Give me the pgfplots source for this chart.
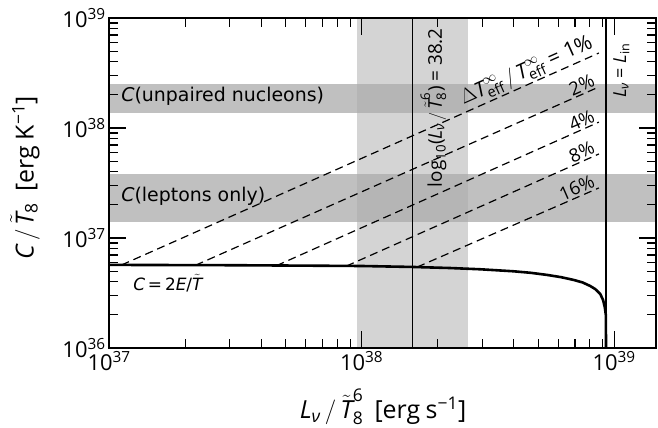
\documentclass[border=0pt]{standalone}
\usepackage{amsmath}
\usepackage{fontspec}
\setmainfont{Open Sans}
\newfontfamily\dejavu{DejaVu Sans}
\usepackage{pgfplots}
\pgfplotsset{compat=1.18}
\definecolor{vband}{RGB}{212,212,212}
\definecolor{hband}{RGB}{192,192,192}
\definecolor{oband}{RGB}{181,181,181}
\newcommand{\mi}[1]{\text{\itshape #1}}
\newcommand{\tT}{\tilde{\mi{T}}}
\begin{document}
\begin{tikzpicture}
\begin{axis}[
  scale only axis, width=547bp, height=330bp,
  xmode=log, ymode=log,
  xmin=1e37, xmax=1.466e39, ymin=1e36, ymax=1e39,
  axis on top,
  tick align=inside,
  xtick pos=both, ytick pos=both,
  major tick length=17bp, minor tick length=9bp,
  every tick/.style={black, line width=1.1bp},
  axis line style={line width=1.3bp},
  /pgf/number format/assume math mode=true,
  log number format basis/.code 2 args={#1\textsuperscript{\pgfmathprintnumber[fixed,precision=0]{#2}}},
  tick label style={font=\fontsize{22}{26}\selectfont},
  xtick={1e37,1e38,1e39},
  ytick={1e36,1e37,1e38,1e39},
  minor xtick={2e37,3e37,4e37,5e37,6e37,7e37,8e37,9e37,2e38,3e38,4e38,5e38,6e38,7e38,8e38,9e38},
  minor ytick={2e36,3e36,4e36,5e36,6e36,7e36,8e36,9e36,2e37,3e37,4e37,5e37,6e37,7e37,8e37,9e37,2e38,3e38,4e38,5e38,6e38,7e38,8e38,9e38},
]
% vertical band
\addplot[draw=none, fill=vband] coordinates {(9.6e37,1e35) (2.64e38,1e35) (2.64e38,1e40) (9.6e37,1e40)} -- cycle;
% horizontal bands
\addplot[draw=none, fill=hband] coordinates {(1e36,1.368e38) (1e40,1.368e38) (1e40,2.512e38) (1e36,2.512e38)} -- cycle;
\addplot[draw=none, fill=hband] coordinates {(1e36,1.397e37) (1e40,1.397e37) (1e40,3.82e37) (1e36,3.82e37)} -- cycle;
% overlaps
\addplot[draw=none, fill=oband] coordinates {(9.6e37,1.368e38) (2.64e38,1.368e38) (2.64e38,2.512e38) (9.6e37,2.512e38)} -- cycle;
\addplot[draw=none, fill=oband] coordinates {(9.6e37,1.397e37) (2.64e38,1.397e37) (2.64e38,3.82e37) (9.6e37,3.82e37)} -- cycle;
% vertical lines
\addplot[black, line width=1.1bp] coordinates {(1.585e38,1e35) (1.585e38,1e40)};
\addplot[black, line width=2.4bp] coordinates {(9.29e38,1e35) (9.29e38,1e40)};
% dashed lines
\addplot[black, line width=1.2bp, dash pattern=on 8bp off 5bp] coordinates {(1.12e37,5.68e36) (8.7e38,4.8e38)}
  node[pos=1, sloped, anchor=south east, inner sep=1.5bp, font=\fontsize{21}{25}\selectfont] {$\Delta\mi{T}^{\infty}_{\text{eff}}\,/\,\mi{T}^{\infty}_{\text{eff}}$ = 1\%};
\addplot[black, line width=1.2bp, dash pattern=on 8bp off 5bp] coordinates {(2.2e37,5.65e36) (8.7e38,2.36e38)}
  node[pos=1, sloped, anchor=south east, inner sep=1.5bp, font=\fontsize{18.5}{22}\selectfont] {2\%};
\addplot[black, line width=1.2bp, dash pattern=on 8bp off 5bp] coordinates {(4.6e37,5.6e36) (8.7e38,1.13e38)}
  node[pos=1, sloped, anchor=south east, inner sep=1.5bp, font=\fontsize{18.5}{22}\selectfont] {4\%};
\addplot[black, line width=1.2bp, dash pattern=on 8bp off 5bp] coordinates {(8.7e37,5.55e36) (8.7e38,5.8e37)}
  node[pos=1, sloped, anchor=south east, inner sep=1.5bp, font=\fontsize{18.5}{22}\selectfont] {8\%};
\addplot[black, line width=1.2bp, dash pattern=on 8bp off 5bp] coordinates {(1.66e38,5.44e36) (8.7e38,2.85e37)}
  node[pos=1, sloped, anchor=south east, inner sep=1.5bp, font=\fontsize{18.5}{22}\selectfont] {16\%};
% C = 2E/T curve
\addplot[black, line width=2.6bp, line join=round] coordinates {
(1e37,5.69e36) (3.162e37,5.65e36) (1e38,5.56e36) (1.585e38,5.45e36) (2.239e38,5.33e36)
(2.951e38,5.19e36) (3.981e38,4.98e36) (4.677e38,4.82e36) (5.433e38,4.61e36) (6.166e38,4.40e36)
(6.918e38,4.15e36) (7.499e38,3.94e36) (8.035e38,3.66e36) (8.414e38,3.43e36) (8.810e38,3.09e36)
(9.036e38,2.73e36) (9.183e38,2.34e36) (9.268e38,2.0e36) (9.29e38,8e35)};
% texts
\node[anchor=west, inner sep=0pt, font=\dejavu\fontsize{19}{23}\selectfont] at (axis cs:1.116e37,1.954e38) {\itshape C\upshape(unpaired nucleons)};
\node[anchor=west, inner sep=0pt, font=\dejavu\fontsize{19}{23}\selectfont] at (axis cs:1.116e37,2.41e37) {\itshape C\upshape(leptons only)};
\node[anchor=west, inner sep=0pt, font=\dejavu\fontsize{17}{21}\selectfont] at (axis cs:1.245e37,3.9e36) {\itshape C\,\upshape=\,2\itshape E\upshape/$\tilde{\text{\dejavu\itshape T}}$};
\node[rotate=90, anchor=north east, inner sep=0pt, font=\fontsize{19}{23}\selectfont] at (axis cs:1.706e38,8.1e38) {log$_{\text{10}}$($\mi{L}_{\mi{ν}}\,/\,\tT^{\text{6}}_{\text{8}}$) = 38.2};
\node[rotate=90, anchor=north east, inner sep=0pt, font=\fontsize{18}{22}\selectfont] at (axis cs:9.9e38,5.93e38) {$\mi{L}_{\mi{ν}}$ = $\mi{L}_{\text{in}}$};
\end{axis}
\node[inner sep=0pt, font=\fontsize{25}{29}\selectfont] at (274bp,-59bp) {$\mi{L}_{\mi{ν}}\,/\,\tT^{\text{6}}_{\text{8}}$\hspace{0.45em}[erg\hspace{0.22em}s$^{\text{−1}}$]};
\node[inner sep=0pt, rotate=90, font=\fontsize{25}{29}\selectfont] at (-84bp,170bp) {$\mi{C}\,/\,\tT_{\text{8}}$\hspace{0.45em}[erg\hspace{0.22em}K$^{\text{−1}}$]};
\pgfresetboundingbox
\path[use as bounding box] (-109bp,-80bp) rectangle (549bp,348bp);
\end{tikzpicture}
\end{document}
